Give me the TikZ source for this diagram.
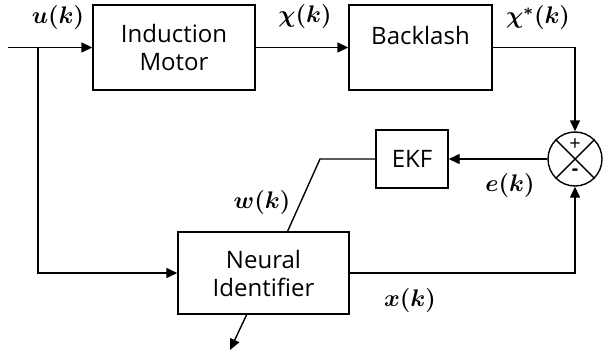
\documentclass[tikz,border=0pt]{standalone}
\usepackage{fontspec}
\setmainfont{Open Sans}
\usetikzlibrary{arrows.meta,shapes.geometric}
\begin{document}
\begin{tikzpicture}[
    x=0.5pt, y=-0.5pt,
    line width=0.7pt,
    >={Triangle[length=5.5pt,width=5pt]},
    myblock/.style={draw, rectangle, align=center, font=\large, inner sep=0pt},
    mysum/.style={draw, circle, minimum size=27pt, inner sep=0pt},
    mylabel/.style={font=\large\boldmath}
]
    \useasboundingbox (0,0) rectangle (603,358);

    % Blocks
    \node[myblock, minimum width=81pt, minimum height=42.5pt] (im) at (174,47.5) {Induction\\Motor};
    \node[myblock, minimum width=71.5pt, minimum height=42.5pt,
          label={[font=\large, yshift=6pt]center:Backlash}] (bl) at (420.5,47.5) {};
    \node[myblock, minimum width=36pt, minimum height=29pt] (ekf) at (412,159) {EKF};
    \node[myblock, minimum width=85.5pt, minimum height=41pt] (ni) at (263.5,273) {Neural\\Identifier};

    % Summing junction
    \node[mysum] (sum) at (575,159) {};
    \draw (sum.north west) -- (sum.south east);
    \draw (sum.north east) -- (sum.south west);
    \node[font=\normalsize] (plus) at (575,145) {+};
    \node[font=\normalsize\bfseries] (minus) at (575,172) {-};

    % Input and branch
    \coordinate (in) at (8,47.5);
    \coordinate (br) at (38,47.5);
    \draw[->] (in) -- (im.west);
    \draw[->] (br) |- (ni.west);

    % Forward path
    \draw[->] (im.east) -- (bl.west);
    \draw[->] (bl.east) -| (sum.north);
    \draw[->] (ni.east) -| (sum.south);
    \draw[->] (sum.west) -- (ekf.east);

    % Weight update and output
    \coordinate (kink) at (320,159);
    \draw (ekf.west) -- (kink) -- (ni.60);
    \coordinate (out) at (230,350);
    \draw[->] (ni.248) -- (out);

    % Signal labels
    \node[mylabel] (lu) at (58,18) {$u(k)$};
    \node[mylabel] (lchi) at (305,17) {$\chi(k)$};
    \node[mylabel] (lchis) at (538,18) {$\chi^{*}(k)$};
    \node[mylabel] (le) at (510,185) {$e(k)$};
    \node[mylabel] (lw) at (262,202) {$w(k)$};
    \node[mylabel] (lx) at (410,300) {$x(k)$};
\end{tikzpicture}
\end{document}
